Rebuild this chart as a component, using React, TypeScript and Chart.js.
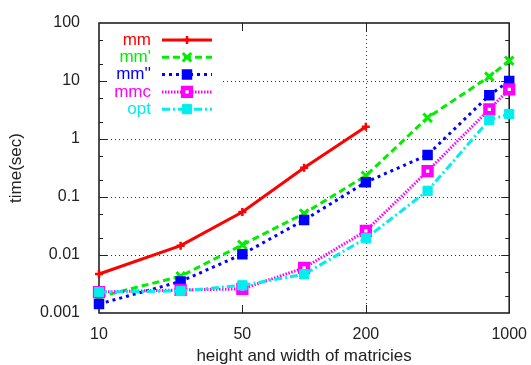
import React, { useEffect, useRef } from "react";
import { Chart, registerables } from "chart.js";
import { drawPoint } from "chart.js/helpers";

Chart.register(...registerables);

const sizes = [10, 25, 50, 100, 200, 400, 800, 1000];
const mm = [0.0047, 0.0145, 0.055, 0.32, 1.63];
const mm1 = [0.0019, 0.0043, 0.015, 0.052, 0.233, 2.33, 11.9, 22.4];
const mm2 = [0.00143, 0.0035, 0.0103, 0.04, 0.18, 0.53, 5.7, 10];
const mmc = [0.0023, 0.0025, 0.0026, 0.006, 0.026, 0.28, 3.25, 7.2];
const opt = [0.0023, 0.0024, 0.003, 0.00465, 0.0194, 0.128, 2.13, 2.7];

const seriesNames = ["mm", "mm'", "mm''", "mmc", "opt"];
const xTicks = [10, 50, 200, 1000];
const yTicks = [0.001, 0.01, 0.1, 1, 10, 100];
const yGrid = [0.01, 0.1, 1, 10];
const xGrid = [200];
const xTickMarks = [50, 200];

const FONT = "'Liberation Sans', Arial, sans-serif";
const TXT = "#222";

const toPts = (vals: number[]) => vals.map((v, i) => ({ x: sizes[i], y: v }));

const framePlugin = {
  id: "gnuframe",
  beforeDatasetsDraw(chart: any) {
    const { ctx, chartArea: a, scales } = chart;
    const x = scales.x, y = scales.y;
    ctx.save();
    ctx.strokeStyle = "#333";
    ctx.lineWidth = 1;
    ctx.setLineDash([1, 3]);
    for (const v of yGrid) {
      const py = Math.round(y.getPixelForValue(v)) + 0.5;
      ctx.beginPath();
      ctx.moveTo(a.left, py);
      ctx.lineTo(a.right, py);
      ctx.stroke();
    }
    for (const v of xGrid) {
      const px = Math.round(x.getPixelForValue(v)) + 0.5;
      ctx.beginPath();
      ctx.moveTo(px, a.top);
      ctx.lineTo(px, a.bottom);
      ctx.stroke();
    }
    ctx.setLineDash([]);
    // legend background
    ctx.fillStyle = "#fff";
    ctx.fillRect(a.left + 1, a.top + 1, 123, 96);
    // ticks
    ctx.strokeStyle = "#222";
    ctx.lineWidth = 1;
    const tick = (x1: number, y1: number, x2: number, y2: number) => {
      ctx.beginPath();
      ctx.moveTo(x1, y1);
      ctx.lineTo(x2, y2);
      ctx.stroke();
    };
    for (let d = -3; d <= 2; d++) {
      const base = Math.pow(10, d);
      const major = Math.round(y.getPixelForValue(base)) + 0.5;
      if (d > -3 && d < 2) {
        tick(a.left, major, a.left + 8, major);
        tick(a.right, major, a.right - 8, major);
      }
      if (d < 2) {
        for (const m of [2, 5]) {
          const py = Math.round(y.getPixelForValue(base * m)) + 0.5;
          tick(a.left, py, a.left + 4, py);
          tick(a.right, py, a.right - 4, py);
        }
      }
    }
    for (const v of xTickMarks) {
      const px = Math.round(x.getPixelForValue(v)) + 0.5;
      tick(px, a.bottom, px, a.bottom - 8);
      tick(px, a.top, px, a.top + 8);
    }
    ctx.lineWidth = 1.6;
    ctx.strokeStyle = "#222";
    ctx.strokeRect(a.left, a.top, a.right - a.left, a.bottom - a.top);
    ctx.restore();
  },
  afterDatasetsDraw(chart: any) {
    const { ctx, chartArea: a } = chart;
    ctx.save();
    ctx.font = `17px ${FONT}`;
    ctx.textAlign = "right";
    ctx.textBaseline = "middle";
    chart.data.datasets.forEach((ds: any, i: number) => {
      const ry = a.top + 17 + i * 17.3;
      ctx.fillStyle = ds.borderColor;
      ctx.fillText(ds.label, a.left + 52, ry);
      ctx.strokeStyle = ds.borderColor;
      ctx.lineWidth = ds.borderWidth;
      ctx.setLineDash(ds.borderDash || []);
      ctx.beginPath();
      ctx.moveTo(a.left + 63, ry);
      ctx.lineTo(a.left + 113, ry);
      ctx.stroke();
      ctx.setLineDash([]);
      ctx.fillStyle = ds.pointBackgroundColor;
      ctx.strokeStyle = ds.borderColor;
      ctx.lineWidth = ds.pointBorderWidth;
      drawPoint(ctx, { pointStyle: ds.pointStyle, radius: ds.pointRadius, rotation: 0, borderWidth: ds.pointBorderWidth }, a.left + 88, ry);
    });
    ctx.restore();
  },
};

export default function App() {
  const ref = useRef<HTMLCanvasElement | null>(null);
  useEffect(() => {
    if (!ref.current) return;
    const mk = (label: string, vals: number[], color: string, dash: number[], style: string, r: number, bw: number, bg: string, order: number) => ({
      label,
      data: toPts(vals),
      borderColor: color,
      backgroundColor: bg,
      pointBackgroundColor: bg,
      pointBorderColor: color,
      borderWidth: 3,
      borderDash: dash,
      pointStyle: style,
      pointRadius: r,
      pointBorderWidth: bw,
      tension: 0,
      clip: false as any,
      order,
    });
    const chart = new Chart(ref.current, {
      type: "line",
      data: {
        datasets: [
          mk(seriesNames[0], mm, "#ff0000", [], "cross", 4, 2.5, "#ff0000", 5),
          mk(seriesNames[1], mm1, "#00ee00", [7, 4], "crossRot", 6, 3, "#00ee00", 4),
          mk(seriesNames[2], mm2, "#0000ff", [3, 4], "rect", 6, 2, "#0000ff", 3),
          mk(seriesNames[3], mmc, "#ff00ff", [1.5, 1.5], "rect", 5.5, 4.5, "#ffffff", 2),
          mk(seriesNames[4], opt, "#00eeee", [8, 3, 2, 3], "rect", 6.5, 1, "#00eeee", 1),
        ] as any,
      },
      options: {
        animation: false,
        responsive: false,
        layout: { padding: { top: 23, right: 21, left: 0, bottom: 0 } },
        plugins: { legend: { display: false }, tooltip: { enabled: false } },
        scales: {
          x: {
            type: "logarithmic",
            min: 10,
            max: 1000,
            afterBuildTicks: (s: any) => {
              s.ticks = xTicks.map((v) => ({ value: v }));
            },
            afterFit: (s: any) => {
              s.height = 52;
            },
            ticks: {
              callback: (v: any) => String(v),
              autoSkip: false,
              maxRotation: 0,
              padding: 4,
              color: TXT,
              font: { family: FONT, size: 16 },
            },
            grid: { display: false },
            border: { display: false },
            title: {
              display: true,
              text: "height and width of matricies",
              color: TXT,
              font: { family: FONT, size: 17 },
              padding: { top: 0, bottom: -2 },
            },
          },
          y: {
            type: "logarithmic",
            min: 0.001,
            max: 100,
            afterBuildTicks: (s: any) => {
              s.ticks = yTicks.map((v) => ({ value: v }));
            },
            afterFit: (s: any) => {
              s.width = 99;
            },
            ticks: {
              callback: (v: any) => String(v),
              autoSkip: false,
              padding: 11,
              color: TXT,
              font: { family: FONT, size: 16 },
            },
            grid: { display: false },
            border: { display: false },
            title: {
              display: true,
              text: "time(sec)",
              color: TXT,
              font: { family: FONT, size: 17 },
              padding: { top: 6, bottom: 0 },
            },
          },
        },
      } as any,
      plugins: [framePlugin],
    });
    return () => chart.destroy();
  }, []);
  return (
    <div style={{ position: "absolute", left: 0, top: 0, background: "#fff" }}>
      <canvas ref={ref} width={531} height={365} style={{ display: "block" }} />
    </div>
  );
}
